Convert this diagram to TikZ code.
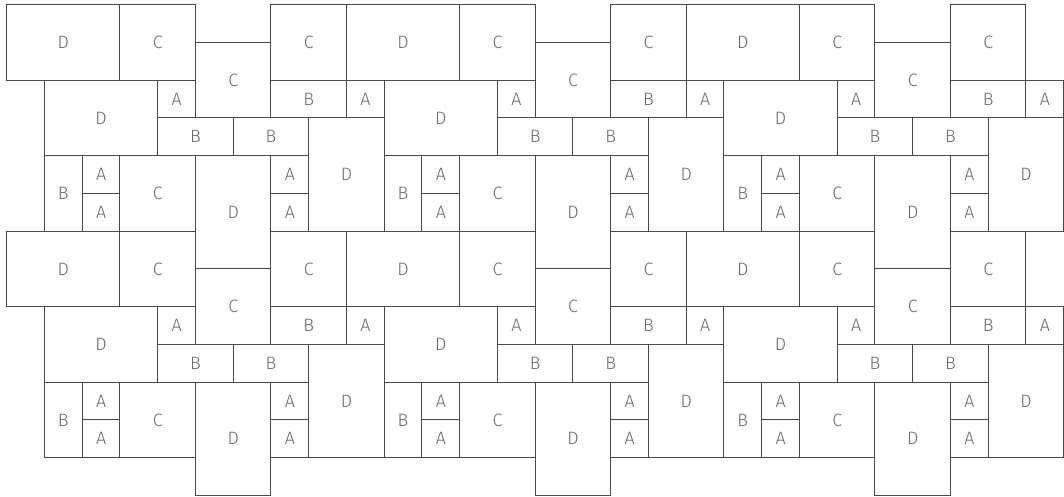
\documentclass[tikz,border=0pt]{standalone}
\usepackage{fontspec}
\setmainfont{Fira Sans}[UprightFont=* Light]
\definecolor{edge}{HTML}{4A4A4A}
\definecolor{lab}{HTML}{6A6A6A}
\begin{document}
\begin{tikzpicture}[x=1cm,y=-1cm,
  tile/.style={draw=edge,line width=0.8pt,inner sep=0pt,outer sep=0pt,
    anchor=north west,text=lab,font=\fontsize{13.5}{15}\selectfont}]
\useasboundingbox (-0.1775,-0.1245) rectangle (28.008,13.04);
\foreach \x/\y/\w/\h/\l [count=\k] in {
  0/0/3/2/D, 3/0/2/2/C, 5/1/2/2/C, 7/0/2/2/C,
  1/2/3/2/D, 4/2/1/1/A, 7/2/2/1/B, 9/2/1/1/A,
  4/3/2/1/B, 6/3/2/1/B, 8/3/2/3/D,
  1/4/1/2/B, 2/4/1/1/A, 2/5/1/1/A, 3/4/2/2/C, 5/4/2/3/D,
  7/4/1/1/A, 7/5/1/1/A}{
  \foreach \i in {0,1,2}{
    \foreach \j in {0,1}{
      \node[tile,minimum width=\w cm,minimum height=\h cm]
        (t\k-\i-\j) at ({\x+9*\i},{\y+6*\j}) {\l};
    }
  }
}
\end{tikzpicture}
\end{document}
